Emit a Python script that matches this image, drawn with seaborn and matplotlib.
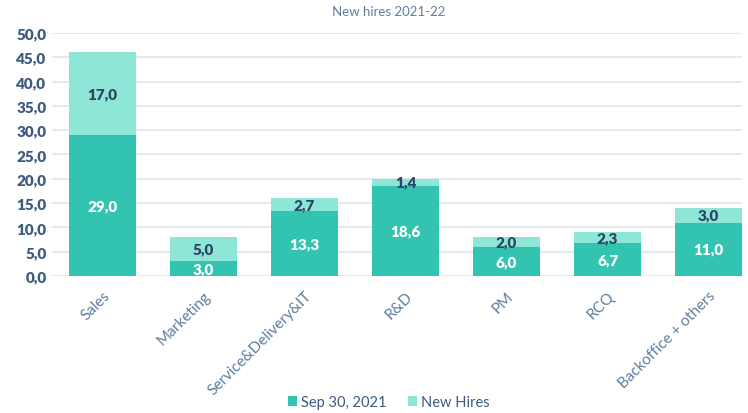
import matplotlib
matplotlib.use("Agg")
import matplotlib.pyplot as plt
import seaborn as sns
import pandas as pd

categories = ["Sales", "Marketing", "Service&Delivery&IT", "R&D", "PM", "RCQ", "Backoffice + others"]
sep30 = [29.0, 3.0, 13.3, 18.6, 6.0, 6.7, 11.0]
new_hires = [17.0, 5.0, 2.7, 1.4, 2.0, 2.3, 3.0]
yticks = [0, 5, 10, 15, 20, 25, 30, 35, 40, 45, 50]
title = "New hires 2021-22"
series_names = ["Sep 30, 2021", "New Hires"]

dark = "#33C3B1"
light = "#8EE6D7"
navy = "#2C4666"

sns.set_theme(style="white")
plt.rcParams["font.family"] = ["Lato", "DejaVu Sans"]

df = pd.DataFrame({"cat": categories, "sep": sep30, "new": new_hires})
df["total"] = df["sep"] + df["new"]

fig = plt.figure(figsize=(7.48, 4.14), dpi=100)
ax = fig.add_axes([52/748, 0.331, (742-52)/748, 0.918-0.331])

sns.barplot(data=df, x="cat", y="total", order=categories, color=light,
            width=0.66, saturation=1, ax=ax, label=series_names[1], zorder=2,
            linewidth=0)
sns.barplot(data=df, x="cat", y="sep", order=categories, color=dark,
            width=0.66, saturation=1, ax=ax, label=series_names[0], zorder=3,
            linewidth=0)

for i, (s, n) in enumerate(zip(sep30, new_hires)):
    ax.text(i, s / 2, f"{s:.1f}".replace(".", ","), ha="center", va="center",
            color="white", fontsize=11, fontweight="heavy", zorder=5)
    ax.text(i, s + n / 2, f"{n:.1f}".replace(".", ","), ha="center", va="center",
            color=navy, fontsize=11, fontweight="heavy", zorder=5)

ax.set_ylim(0, 50)
ax.set_xlim(-0.5, 6.33)
ax.set_yticks(yticks)
ax.set_yticklabels([f"{v:.1f}".replace(".", ",") for v in yticks],
                   fontsize=11, fontweight="heavy", color="#3D5A80")
ax.yaxis.grid(True, color="#DCE6EF", linewidth=1.2, zorder=0)
ax.set_axisbelow(True)
ax.set_xticks(range(len(categories)))
ax.set_xticklabels(categories, rotation=45, ha="right", rotation_mode="anchor",
                   fontsize=11, color="#5F7E9E", fontweight="normal")
ax.tick_params(axis="both", length=0, pad=4)
ax.tick_params(axis="x", pad=9)
ax.set_xlabel("")
ax.set_ylabel("")
for sp in ax.spines.values():
    sp.set_visible(False)

fig.text(0.52, 0.972, title, ha="center", va="center", fontsize=9.5, color="#5F7E9E")

handles, labels = ax.get_legend_handles_labels()
order = [labels.index(series_names[0]), labels.index(series_names[1])]
ax.legend([handles[k] for k in order], [labels[k] for k in order],
          loc="center", bbox_to_anchor=(0.52, 0.027), bbox_transform=fig.transFigure,
          ncol=2, frameon=False, fontsize=10.5, handlelength=0.6, handleheight=0.7,
          handletextpad=0.3, columnspacing=1.5, labelcolor="#3D5A80")

fig.savefig("out.png", dpi=100)
